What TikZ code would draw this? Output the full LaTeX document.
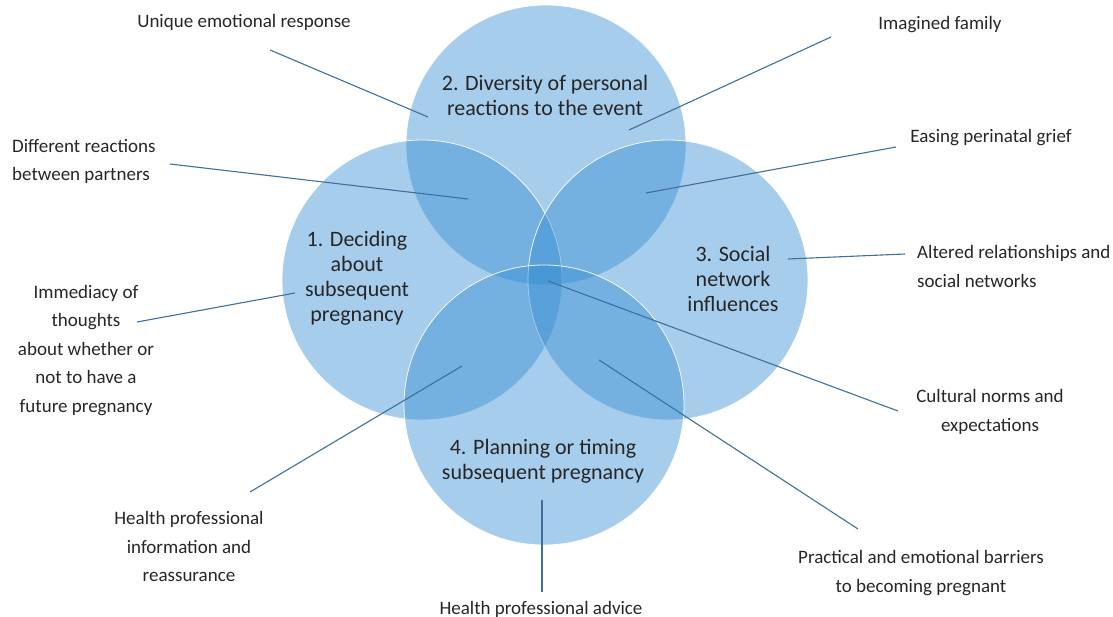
\documentclass[tikz,border=0pt]{standalone}
\usepackage{fontspec}
\setmainfont{Carlito}
\definecolor{vnBlue}{HTML}{358DD2}
\definecolor{vnLine}{HTML}{3F6F9A}
\definecolor{vnText}{HTML}{262626}
\usetikzlibrary{calc,positioning}

\tikzset{
  theme/.style={fill=vnBlue, fill opacity=0.44, draw=white, draw opacity=0.9, line width=0.8pt},
  title/.style={text=vnText, font=\fontsize{22}{25}\selectfont, align=center},
  lbl/.style={text=vnText, font=\fontsize{19}{28.5}\selectfont, align=center, inner sep=0pt},
  link/.style={draw=vnLine, line width=1.1pt},
}

\begin{document}
\begin{tikzpicture}[x=100pt, y=-100pt]
  \useasboundingbox (0,0) rectangle (11.13,6.17);

  % Circles
  \path[theme] (5.46,1.45) circle (1.40);
  \path[theme] (4.22,2.80) circle (1.40);
  \path[theme] (6.68,2.80) circle (1.40);
  \path[theme] (5.44,4.05) circle (1.40);

  % Themes
  \node[title] (diversity) at (5.45,0.955) {2. Diversity of personal\\reactions to the event};
  \node[title] (deciding) at (3.57,2.78) {1. Deciding\\about\\subsequent\\pregnancy};
  \node[title] (social) at (7.33,2.79) {3. Social\\network\\influences};
  \node[title] (planning) at (5.43,4.615) {4. Planning or timing\\subsequent pregnancy};

  % Subthemes
  \node[lbl] (unique) at (2.44,0.22) {Unique emotional response};
  \node[lbl, align=left, anchor=west] (partners) at (0.12,1.615) {Different reactions\\between partners};
  \node[lbl] (imagined) at (9.40,0.25) {Imagined family};
  \node[lbl] (easing) at (9.91,1.38) {Easing perinatal grief};
  \node[lbl, align=left, anchor=west] (altered) at (9.17,2.665) {Altered relationships and\\social networks};
  \node[lbl] (immediacy) at (0.86,3.505) {Immediacy of\\thoughts\\about whether or\\not to have a\\future pregnancy};
  \node[lbl] (cultural) at (9.90,4.12) {Cultural norms and\\expectations};
  \node[lbl] (info) at (1.89,5.465) {Health professional\\information and\\reassurance};
  \node[lbl] (advice) at (5.41,6.09) {Health professional advice};
  \node[lbl] (barriers) at (9.21,5.73) {Practical and emotional barriers\\to becoming pregnant};

  % Connector ends
  \coordinate (uniqueA) at (2.70,0.50);   \coordinate (uniqueB) at (4.28,1.17);
  \coordinate (partnersA) at (1.70,1.64); \coordinate (partnersB) at (4.68,1.99);
  \coordinate (imaginedA) at (8.31,0.37); \coordinate (imaginedB) at (6.29,1.30);
  \coordinate (easingA) at (8.96,1.47);   \coordinate (easingB) at (6.46,1.93);
  \coordinate (alteredA) at (9.05,2.54);  \coordinate (alteredB) at (7.88,2.59);
  \coordinate (immediacyA) at (1.37,3.22); \coordinate (immediacyB) at (2.95,2.93);
  \coordinate (culturalA) at (8.98,4.11); \coordinate (culturalB) at (5.48,2.81);
  \coordinate (infoA) at (2.50,4.92);     \coordinate (infoB) at (4.62,3.66);
  \coordinate (adviceA) at (5.42,5.92);   \coordinate (adviceB) at (5.42,5.00);
  \coordinate (barriersA) at (8.58,5.29); \coordinate (barriersB) at (5.99,3.60);

  % Connectors
  \foreach \c in {unique,partners,imagined,easing,altered,immediacy,cultural,info,advice,barriers}
    \draw[link] (\c A) -- (\c B);
\end{tikzpicture}
\end{document}
